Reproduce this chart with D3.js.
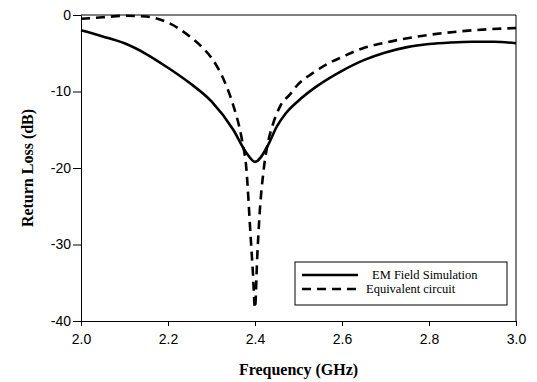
<!DOCTYPE html>
<html>
<head>
<meta charset="utf-8">
<script src="https://cdn.jsdelivr.net/npm/d3@7"></script>
<style>
  body { margin: 0; background: #fff; }
  svg { display: block; }
</style>
</head>
<body>
<svg width="537" height="382"></svg>
<script>
// EM field simulation (solid)
const EM_FREQ = [2.0, 2.05, 2.1, 2.15, 2.2, 2.25, 2.3, 2.35, 2.38, 2.4, 2.43, 2.45, 2.47, 2.5, 2.54, 2.6, 2.65, 2.7, 2.75, 2.8, 2.85, 2.9, 2.95, 3.0];
const EM_DB   = [-2.0, -2.8, -3.7, -5.1, -6.9, -8.9, -11.3, -15.0, -18.0, -19.2, -17.0, -14.6, -12.9, -11.2, -9.4, -7.3, -5.9, -4.9, -4.2, -3.8, -3.6, -3.5, -3.5, -3.7];

// equivalent circuit (dashed)
const EQ_FREQ = [2.0, 2.05, 2.1, 2.15, 2.2, 2.25, 2.28, 2.3, 2.33, 2.35, 2.37, 2.38, 2.39, 2.395, 2.4, 2.405, 2.41, 2.42, 2.43, 2.44, 2.46, 2.48, 2.5, 2.53, 2.57, 2.6, 2.65, 2.7, 2.8, 2.9, 3.0];
const EQ_DB   = [-0.5, -0.3, -0.1, -0.2, -1.0, -2.8, -4.3, -5.6, -8.7, -11.8, -16.3, -20.0, -29.0, -33.5, -38.3, -31.8, -26.5, -20.2, -16.6, -14.5, -11.7, -10.4, -9.0, -7.7, -6.3, -5.5, -4.3, -3.6, -2.6, -2.0, -1.7];

const X_TICKS = [2.0, 2.2, 2.4, 2.6, 2.8, 3.0];
const Y_TICKS = [0, -10, -20, -30, -40];
const LEGEND_LABELS = ["EM Field Simulation", "Equivalent circuit"];

const margin = {left: 81, right: 21, top: 15, bottom: 61};
const W = 537, H = 382;

const x = d3.scaleLinear().domain([2.0, 3.0]).range([margin.left, W - margin.right]);
const y = d3.scaleLinear().domain([-40, 0]).range([H - margin.bottom, margin.top]);

const svg = d3.select('svg');

// frame top + right
svg.append('path')
  .attr('d', `M${x(2.0)},${y(0)}H${x(3.0)}V${y(-40)}`)
  .attr('fill', 'none').attr('stroke', '#000').attr('stroke-width', 1);

const xAxis = svg.append('g')
  .attr('transform', `translate(0,${y(-40)})`)
  .call(d3.axisBottom(x).tickValues(X_TICKS).tickFormat(d3.format('.1f')).tickSize(5).tickSizeOuter(0));
xAxis.selectAll('text').attr('dy', '1.1em')
  .style('font-family', 'Arial, "Liberation Sans", sans-serif').style('font-size', '14px');

const yAxis = svg.append('g')
  .attr('transform', `translate(${x(2.0)},0)`)
  .call(d3.axisLeft(y).tickValues(Y_TICKS).tickFormat(d => String(d)).tickSize(8).tickSizeOuter(0));
yAxis.selectAll('text').attr('x', -10)
  .style('font-family', 'Arial, "Liberation Sans", sans-serif').style('font-size', '14px');

svg.selectAll('.domain, .tick line').attr('stroke', '#000');

const line = d3.line().x(d => x(d[0])).y(d => y(d[1])).curve(d3.curveMonotoneX);

svg.append('path')
  .datum(EM_FREQ.map((f, i) => [f, EM_DB[i]]))
  .attr('d', line)
  .attr('fill', 'none').attr('stroke', '#000').attr('stroke-width', 2.6);

svg.append('path')
  .datum(EQ_FREQ.map((f, i) => [f, EQ_DB[i]]))
  .attr('d', line)
  .attr('fill', 'none').attr('stroke', '#000').attr('stroke-width', 2.6)
  .attr('stroke-dasharray', '9,6');

// axis titles
svg.append('text')
  .attr('x', (x(2.0) + x(3.0)) / 2).attr('y', 375)
  .attr('text-anchor', 'middle')
  .style('font-family', '"Liberation Serif", "Times New Roman", serif')
  .style('font-weight', 'bold').style('font-size', '16px')
  .text('Frequency (GHz)');

svg.append('text')
  .attr('transform', `translate(33,${(y(0) + y(-40)) / 2}) rotate(-90)`)
  .attr('text-anchor', 'middle')
  .style('font-family', '"Liberation Serif", "Times New Roman", serif')
  .style('font-weight', 'bold').style('font-size', '16px')
  .text('Return Loss (dB)');

// legend
const lg = svg.append('g');
lg.append('rect')
  .attr('x', 295).attr('y', 262).attr('width', 212).attr('height', 43)
  .attr('fill', '#fff').attr('stroke', '#000').attr('stroke-width', 1);

const legendRows = lg.selectAll('.row')
  .data(LEGEND_LABELS)
  .enter()
  .append('g')
  .attr('transform', (d, i) => `translate(0,${275 + i * 14})`);

legendRows.append('line')
  .attr('x1', 302).attr('x2', 358).attr('y1', 0).attr('y2', 0)
  .attr('stroke', '#000').attr('stroke-width', 2.6)
  .attr('stroke-dasharray', (d, i) => i ? '9,6' : null);

legendRows.append('text')
  .attr('x', (d, i) => i ? 366 : 372).attr('y', 4)
  .style('font-family', '"Liberation Serif", "Times New Roman", serif')
  .style('font-size', '12.5px')
  .text(d => d);
</script>
</body>
</html>
